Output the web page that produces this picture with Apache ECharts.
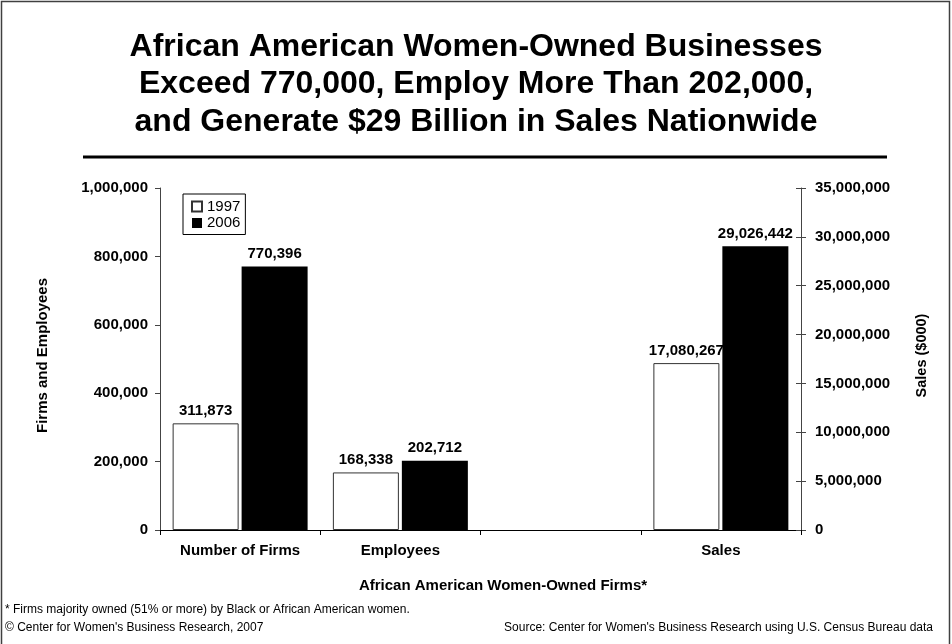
<!DOCTYPE html>
<html>
<head>
<meta charset="utf-8">
<script src="https://cdn.jsdelivr.net/npm/echarts@6/dist/echarts.min.js"></script>
<style>html,body{margin:0;padding:0;background:#fff}#c{width:952px;height:644px}</style>
</head>
<body>
<div id="c"></div>
<script>
const categories = ['Number of Firms', 'Employees', '', 'Sales'];
const years = ['1997', '2006'];
const counts1997 = [311873, 168338, null, null];
const counts2006 = [770396, 202712, null, null];
const sales1997 = [null, null, null, 17080267];
const sales2006 = [null, null, null, 29026442];
const titleText = 'African American Women-Owned Businesses\nExceed 770,000, Employ More Than 202,000,\nand Generate $29 Billion in Sales Nationwide';
const xAxisTitle = 'African American Women-Owned Firms*';
const leftAxisTitle = 'Firms and Employees';
const rightAxisTitle = 'Sales ($000)';
const footnote = '* Firms majority owned (51% or more) by Black or African American women.';
const copyright = '\u00A9 Center for Women\'s Business Research, 2007';
const source = 'Source: Center for Women\'s Business Research using U.S. Census Bureau data';

const FONT = '"Liberation Sans", Arial, Helvetica, sans-serif';
const fmt = v => Number(v).toLocaleString('en-US');
const chart = echarts.init(document.getElementById('c'), null, {renderer: 'canvas'});

const labelCfg = {
  show: true, position: 'top', distance: 5,
  formatter: p => fmt(p.value),
  fontFamily: FONT, fontWeight: 'bold', fontSize: 15, color: '#000'
};
const whiteStyle = {color: '#fff', borderColor: '#333', borderWidth: 1};
const blackStyle = {color: '#000'};

chart.setOption({
  animation: false,
  backgroundColor: '#fff',
  textStyle: {fontFamily: FONT},
  title: {
    text: titleText,
    left: 'center', top: 28, padding: 0,
    textStyle: {fontFamily: FONT, fontWeight: 'bold', fontSize: 32, lineHeight: 37.5, color: '#000'}
  },
  legend: {
    data: years,
    orient: 'vertical', left: 183, top: 194,
    padding: [5, 5, 4, 8],
    borderColor: '#000', borderWidth: 1,
    itemWidth: 10, itemHeight: 10, itemGap: 1.5,
    icon: 'rect',
    textStyle: {fontFamily: FONT, fontSize: 15, color: '#000', lineHeight: 15}
  },
  grid: {left: 160, right: 151, top: 188, bottom: 114, containLabel: false},
  xAxis: [
    {
      type: 'category', data: categories, position: 'bottom',
      axisLine: {lineStyle: {color: '#000', width: 1}},
      axisTick: {show: true, length: 5, lineStyle: {color: '#000'}},
      axisLabel: {interval: 0, margin: 13, fontFamily: FONT, fontWeight: 'bold', fontSize: 15, color: '#000'},
      name: xAxisTitle, nameLocation: 'middle', nameGap: 48,
      nameTextStyle: {fontFamily: FONT, fontWeight: 'bold', fontSize: 15, color: '#000', padding: [0, 0, 0, 45]}
    },
    {
      type: 'category', data: categories, position: 'top',
      axisLine: {show: true, lineStyle: {color: '#000', width: 1}},
      axisTick: {show: false}, axisLabel: {show: false}
    }
  ],
  yAxis: [
    {
      type: 'value', position: 'left', min: 0, max: 1000000, interval: 200000,
      axisLine: {show: true, lineStyle: {color: '#444'}},
      axisTick: {show: true, length: 5, lineStyle: {color: '#444'}},
      splitLine: {show: false},
      axisLabel: {margin: 12, formatter: v => fmt(v), fontFamily: FONT, fontWeight: 'bold', fontSize: 15, color: '#000'},
      name: leftAxisTitle, nameLocation: 'middle', nameGap: 110,
      nameTextStyle: {fontFamily: FONT, fontWeight: 'bold', fontSize: 15, color: '#000', padding: [0, 0, 0, 7]}
    },
    {
      type: 'value', position: 'right', min: 0, max: 35000000, interval: 5000000,
      axisLine: {show: true, lineStyle: {color: '#444'}},
      axisTick: {show: true, length: 5, lineStyle: {color: '#444'}},
      splitLine: {show: false},
      axisLabel: {margin: 14, formatter: v => fmt(v), fontFamily: FONT, fontWeight: 'bold', fontSize: 15, color: '#000'},
      name: rightAxisTitle, nameLocation: 'middle', nameGap: 113,
      nameTextStyle: {fontFamily: FONT, fontWeight: 'bold', fontSize: 14.5, color: '#000', padding: [0, 0, 0, 7]}
    },
    {
      type: 'value', position: 'right', min: 0, max: 35000000, interval: 5000000,
      axisLine: {show: false},
      axisTick: {show: true, inside: true, length: 5, lineStyle: {color: '#444'}},
      splitLine: {show: false}, axisLabel: {show: false}
    }
  ],
  series: [
    {name: years[0], type: 'bar', xAxisIndex: 0, yAxisIndex: 0, data: counts1997,
     barWidth: 66, barGap: '4.5%', itemStyle: whiteStyle, label: labelCfg},
    {name: years[1], type: 'bar', xAxisIndex: 0, yAxisIndex: 0, data: counts2006,
     barWidth: 66, barGap: '4.5%', itemStyle: blackStyle, label: labelCfg},
    {name: years[0], type: 'bar', xAxisIndex: 1, yAxisIndex: 1, data: sales1997,
     barWidth: 66, barGap: '4.5%', itemStyle: whiteStyle, label: labelCfg},
    {name: years[1], type: 'bar', xAxisIndex: 1, yAxisIndex: 1, data: sales2006,
     barWidth: 66, barGap: '4.5%', itemStyle: blackStyle, label: labelCfg}
  ],
  graphic: [
    {type: 'rect', shape: {x: 1.5, y: 1.5, width: 948, height: 700}, style: {fill: null, stroke: '#404040', lineWidth: 1.5}, silent: true},
    {type: 'line', shape: {x1: 83, y1: 157, x2: 887, y2: 157}, style: {stroke: '#000', lineWidth: 3}, silent: true},
    {type: 'text', left: 5, top: 604, style: {text: footnote, font: '12px ' + FONT, fill: '#000'}},
    {type: 'text', left: 5, top: 622, style: {text: copyright, font: '12px ' + FONT, fill: '#000'}},
    {type: 'text', right: 19, top: 622, style: {text: source, font: '12px ' + FONT, fill: '#000'}}
  ]
});
</script>
</body>
</html>
